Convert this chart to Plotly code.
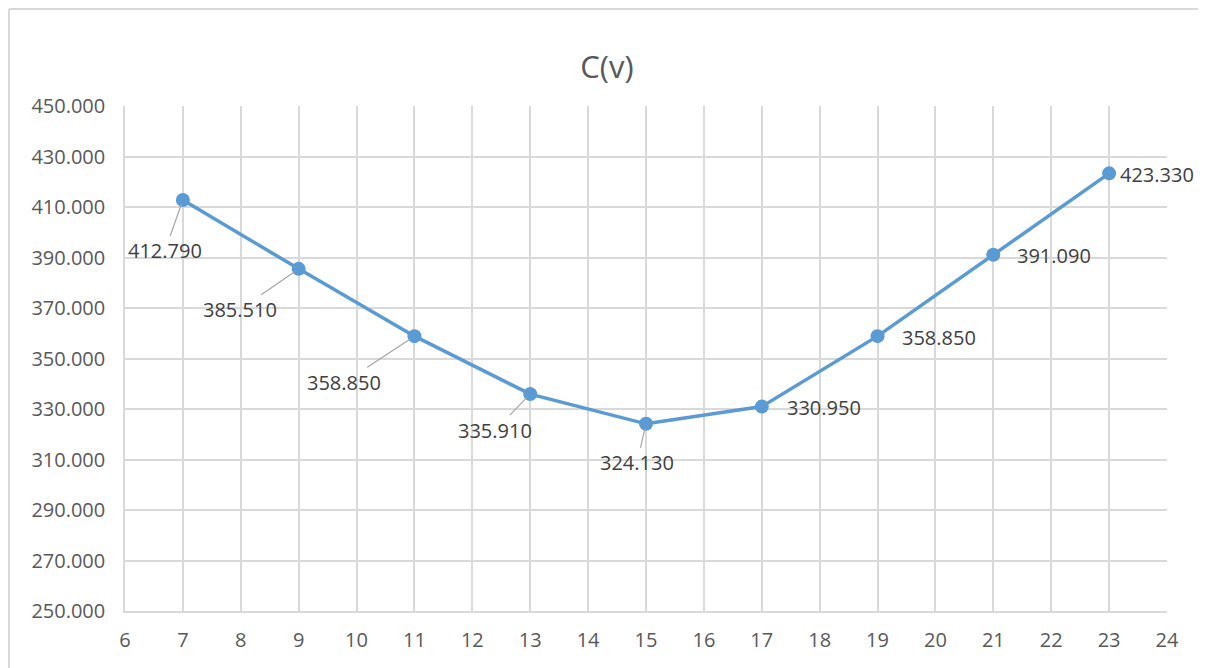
import plotly.graph_objects as go

v = [7, 9, 11, 13, 15, 17, 19, 21, 23]
c = [412.790, 385.510, 358.850, 335.910, 324.130, 330.950, 358.850, 391.090, 423.330]
labels = ["412.790", "385.510", "358.850", "335.910", "324.130", "330.950", "358.850", "391.090", "423.330"]
# label offsets in pixels (ax, ay) and whether a leader line is drawn
offsets = [(-18, 51, True), (-59, 41, True), (-70, 46, True), (-35, 36, True), (-9, 39, True),
           (62, 1, False), (61, 1, False), (61, 1, False), (48, 1, False)]

TXT = "#595959"
GRID = "#D9D9D9"
FONT = "Open Sans"
FS = 20

fig = go.Figure()
fig.add_trace(go.Scatter(
    x=v, y=c, mode="lines+markers",
    line=dict(color="#5B9BD5", width=3.5),
    marker=dict(color="#5B9BD5", size=14),
    hoverinfo="x+y", showlegend=False,
))

for xi, yi, lab, (ax, ay, leader) in zip(v, c, labels, offsets):
    if leader:
        fig.add_annotation(x=xi, y=yi, text=lab, showarrow=True, ax=ax, ay=ay,
                           arrowhead=0, arrowwidth=1.2, arrowcolor="#A6A6A6", standoff=5,
                           font=dict(family=FONT, size=FS, color="#404040"))
    else:
        fig.add_annotation(x=xi, y=yi, text=lab, showarrow=False, xshift=ax, yshift=-ay,
                           font=dict(family=FONT, size=FS, color="#404040"))

# outer chart frame (left and top edges visible)
fig.add_shape(type="line", xref="paper", yref="paper", x0=-0.1113, x1=-0.1113, y0=1.192, y1=-0.2,
              line=dict(color=GRID, width=2))
fig.add_shape(type="line", xref="paper", yref="paper", x0=-0.1113, x1=1.0365, y0=1.192, y1=1.192,
              line=dict(color=GRID, width=2))

fig.update_layout(
    width=1198, height=660,
    margin=dict(l=117, r=39, t=98, b=57),
    paper_bgcolor="white", plot_bgcolor="white",
    title=dict(text="C(v)", x=0.5, xanchor="center", y=0.91, yanchor="middle",
               font=dict(family=FONT, size=31, color=TXT)),
    font=dict(family=FONT, size=FS, color=TXT),
    xaxis=dict(range=[6, 24], dtick=1, tick0=6, showgrid=True, gridcolor=GRID, gridwidth=1.5,
               showline=True, linecolor=GRID, linewidth=1.5, zeroline=False,
               ticks="outside", ticklen=10, tickcolor="rgba(0,0,0,0)",
               tickfont=dict(family=FONT, size=FS, color=TXT)),
    yaxis=dict(range=[250, 450], dtick=20, tick0=250, tickformat=".3f", showgrid=True,
               gridcolor=GRID, gridwidth=1.5, showline=True, linecolor=GRID, linewidth=1.5,
               zeroline=False, ticks="outside", ticklen=14, tickcolor="rgba(0,0,0,0)",
               tickfont=dict(family=FONT, size=FS, color=TXT)),
)

fig.write_html("out.html")
